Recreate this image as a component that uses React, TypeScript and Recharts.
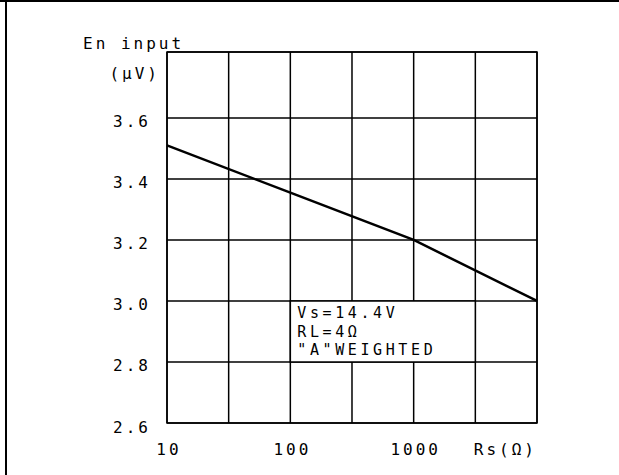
import React from "react";
import { LineChart, Line, XAxis, YAxis, CartesianGrid, ReferenceArea } from "recharts";

// Rs in ohms (log axis) vs input noise in uV
const rsOhms = [10, 100, 1000, 10000];
const enInput = [3.51, 3.355, 3.2, 3.0];

const xGridTicks = [10, 31.62, 100, 316.2, 1000, 3162, 10000];
const xLabels: Record<number, string> = { 10: "10", 100: "100", 1000: "1000", 10000: "Rs(Ω)" };
const yTicks = [2.6, 2.8, 3.0, 3.2, 3.4, 3.6];
const noteLines = ["Vs=14.4V", "RL=4Ω", "\"A\"WEIGHTED"];

const data = rsOhms.map((rs, i) => ({ rs, en: enInput[i] }));

const FONT = "'DejaVu Sans Mono', 'Liberation Mono', monospace";
const txt = { fontFamily: FONT, fontSize: 16, letterSpacing: 3, fill: "#000" } as const;
const noteTxt = { ...txt, fontSize: 15, letterSpacing: 3.6 };

const XTick = (p: any) => {
  const label = xLabels[p.payload.value];
  if (!label) return null;
  const isUnit = p.payload.value === 10000;
  return (
    <text x={isUnit ? p.x : p.x + 2} y={p.y + 26} textAnchor={isUnit ? "end" : "middle"} dominantBaseline="central" style={txt}>
      {label}
    </text>
  );
};

const YTick = (p: any) => (
  <text x={p.x + 1} y={p.y + 4} textAnchor="end" dominantBaseline="central" style={txt}>
    {p.payload.value.toFixed(1)}
  </text>
);

const NoteLabel = (p: any) => {
  const vb = p.viewBox;
  return (
    <g>
      {noteLines.map((s, i) => (
        <text key={i} x={vb.x + 7} y={vb.y + [12, 31, 49][i]} dominantBaseline="central" style={noteTxt}>
          {s}
        </text>
      ))}
    </g>
  );
};

export default function App() {
  return (
    <div style={{ position: "absolute", left: 0, top: 0, width: 619, height: 475, background: "#fff" }}>
      <div style={{ position: "absolute", left: 0, top: 0, width: 619, height: 2, background: "#000" }} />
      <div style={{ position: "absolute", left: 5, top: 0, width: 2, height: 475, background: "#000" }} />
      <LineChart width={619} height={475} data={data} margin={{ top: 52, right: 82, bottom: 22, left: 107 }}>
        <CartesianGrid stroke="#000" strokeWidth={1.5} strokeOpacity={1} />
        <XAxis
          dataKey="rs"
          type="number"
          scale="log"
          domain={[10, 10000]}
          ticks={xGridTicks}
          tick={<XTick />}
          tickLine={false}
          axisLine={false}
          tickSize={0}
          tickMargin={0}
          height={30}
          interval={0}
        />
        <YAxis
          type="number"
          domain={[2.6, 3.816]}
          ticks={yTicks}
          tick={<YTick />}
          tickLine={false}
          axisLine={false}
          tickSize={0}
          tickMargin={17}
          width={60}
          interval={0}
        />
        <ReferenceArea x1={10} x2={10000} y1={2.6} y2={3.816} fill="none" stroke="#000" strokeWidth={1.5} ifOverflow="extendDomain" />
        <ReferenceArea x1={100} x2={3162} y1={2.8} y2={3.0} fill="#fff" fillOpacity={1} stroke="#000" strokeWidth={1.5} label={<NoteLabel />} />
        <Line type="linear" dataKey="en" stroke="#000" strokeWidth={2.5} dot={false} isAnimationActive={false} />
        <text x={83} y={43} dominantBaseline="central" style={txt}>En input</text>
        <text x={160} y={73} textAnchor="end" dominantBaseline="central" style={txt}>(μV)</text>
      </LineChart>
    </div>
  );
}
